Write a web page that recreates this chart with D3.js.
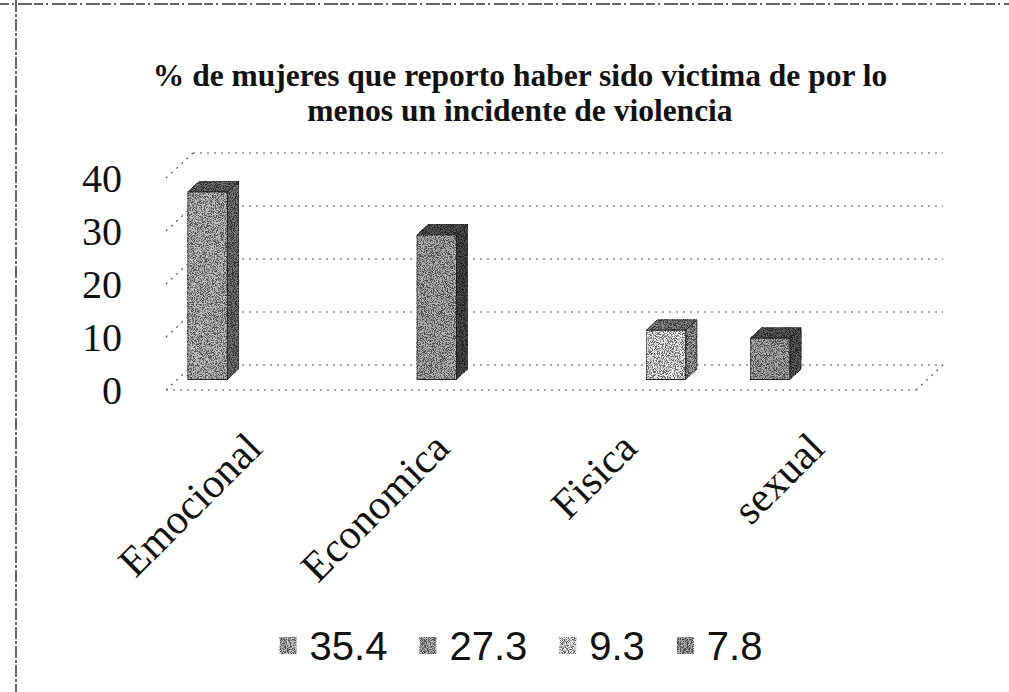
<!DOCTYPE html>
<html>
<head>
<meta charset="utf-8">
<script src="https://cdn.jsdelivr.net/npm/d3@7"></script>
<style>
  body { margin: 0; background: #fff; }
  svg { display: block; }
  .tick-label, .cat-label { font-family: 'Liberation Serif', 'Times New Roman', serif; fill: #111; }
  .title { font-family: 'Liberation Serif', serif; font-weight: bold; fill: #111; }
  .legend-label { font-family: 'Liberation Sans', Arial, sans-serif; fill: #111; }
  .grid { stroke: #555; stroke-width: 1.2; stroke-dasharray: 2 5; fill: none; }
</style>
</head>
<body>
<div id="chart"></div>
<script>
//Data
const categories = ['Emocional', 'Economica', 'Fisica', 'sexual'];
const values = [35.4, 27.3, 9.3, 7.8];
const seriesNames = ['35.4', '27.3', '9.3', '7.8'];
const barSlot = [0, 1, 2, 0];        // column of the cluster each value sits in
const yTicks = [0, 10, 20, 30, 40];
const titleLines = ['% de mujeres que reporto haber sido victima de por lo',
                    'menos un incidente de violencia'];

//Face shades per series: front, side, top (darkened further by the grain)
const shades = [
  {front: '#c4c4c4', side: '#7a7a7a', top: '#707070'},
  {front: '#b8b8b8', side: '#505050', top: '#5a5a5a'},
  {front: '#f4f4f4', side: '#a8a8a8', top: '#8a8a8a'},
  {front: '#b0b0b0', side: '#606060', top: '#606060'}
];

const width = 1009, height = 692;
let plot = {left: 166, right: 916};
let depth = {dx: 27, dy: -25};      // back wall offset from the front edge
let barZ = 0.42, barD = 0.42;       // where bars stand in depth, and how deep they are

let svg = d3.select('#chart').append('svg')
    .attr('width', width)
    .attr('height', height);

svg.append('rect').attr('width', width).attr('height', height).attr('fill', '#fff');

//grain so the bars look like the photocopy
let defs = svg.append('defs');
let f = defs.append('filter').attr('id', 'grain')
    .attr('x', 0).attr('y', 0).attr('width', 1).attr('height', 1);
f.append('feTurbulence').attr('type', 'fractalNoise').attr('baseFrequency', 1.1)
    .attr('numOctaves', 2).attr('seed', 7).attr('result', 'n');
f.append('feColorMatrix').attr('in', 'n').attr('type', 'saturate').attr('values', 0).attr('result', 'g');
let ct = f.append('feComponentTransfer').attr('in', 'g').attr('result', 'c');
['feFuncR', 'feFuncG', 'feFuncB'].forEach(function(k){
    ct.append(k).attr('type', 'linear').attr('slope', 7).attr('intercept', -3);
});
ct.append('feFuncA').attr('type', 'linear').attr('slope', 0).attr('intercept', 1);
f.append('feBlend').attr('in', 'SourceGraphic').attr('in2', 'c').attr('mode', 'multiply').attr('result', 'm');
f.append('feComposite').attr('in', 'SourceGraphic').attr('in2', 'm').attr('operator', 'arithmetic')
    .attr('k1', 0).attr('k2', 0.15).attr('k3', 0.85).attr('k4', 0).attr('result', 'mix');
f.append('feComposite').attr('in', 'mix').attr('in2', 'SourceAlpha').attr('operator', 'in');

//scanned page frame
svg.append('line').attr('x1', 0).attr('x2', width).attr('y1', 4).attr('y2', 4)
    .attr('stroke', '#333').attr('stroke-width', 1.5).attr('stroke-dasharray', '9 3 2 4 14 2');
svg.append('line').attr('x1', 16).attr('x2', 16).attr('y1', 0).attr('y2', height)
    .attr('stroke', '#333').attr('stroke-width', 1.5).attr('stroke-dasharray', '12 2 3 2');

//Scales
let xScale = d3.scaleBand()
    .domain(categories)
    .range([plot.left, plot.right]);

let slotScale = d3.scaleBand()
    .domain(d3.range(seriesNames.length))
    .range([0, xScale.bandwidth()])
    .paddingOuter(0.25);

let yScale = d3.scaleLinear()
    .domain([0, 40])
    .range([390, 178]);

//Title
svg.append('text')
    .attr('class', 'title')
    .attr('x', 520)
    .attr('y', 86)
    .attr('text-anchor', 'middle')
    .style('font-size', '31.5px')
    .selectAll('tspan')
    .data(titleLines)
    .enter().append('tspan')
    .attr('x', 520)
    .attr('dy', function(d, i){ return i === 0 ? 0 : 35; })
    .text(function(d){ return d; });

//walls: back gridlines, left side, floor
let grid = svg.append('g');
grid.selectAll('.back')
    .data(yTicks)
    .enter().append('line')
    .attr('class', 'grid')
    .attr('x1', plot.left + depth.dx)
    .attr('x2', plot.right + depth.dx)
    .attr('y1', function(d){ return yScale(d) + depth.dy; })
    .attr('y2', function(d){ return yScale(d) + depth.dy; });

grid.selectAll('.side')
    .data(yTicks)
    .enter().append('line')
    .attr('class', 'grid')
    .attr('x1', plot.left)
    .attr('x2', plot.left + depth.dx)
    .attr('y1', function(d){ return yScale(d); })
    .attr('y2', function(d){ return yScale(d) + depth.dy; });

grid.append('line').attr('class', 'grid')
    .attr('x1', plot.left).attr('x2', plot.right)
    .attr('y1', yScale(0)).attr('y2', yScale(0));
grid.append('line').attr('class', 'grid')
    .attr('x1', plot.right).attr('x2', plot.right + depth.dx)
    .attr('y1', yScale(0)).attr('y2', yScale(0) + depth.dy);

//y tick labels
svg.selectAll('.tick-label')
    .data(yTicks)
    .enter().append('text')
    .attr('class', 'tick-label')
    .attr('x', 122)
    .attr('y', function(d){ return yScale(d); })
    .attr('dy', '0.35em')
    .attr('text-anchor', 'end')
    .style('font-size', '40px')
    .text(function(d){ return d; });

//3D bars
let bars = categories.map(function(c, i){
    let w = slotScale.bandwidth() * 0.95;
    let x0 = xScale(c) + slotScale(barSlot[i]) + barZ * depth.dx;
    let yb = yScale(0) + barZ * depth.dy;
    let yt = yScale(values[i]) + barZ * depth.dy;
    return {i: i, x0: x0, w: w, yb: yb, yt: yt, ddx: barD * depth.dx, ddy: barD * depth.dy};
});

let barG = svg.selectAll('.bar')
    .data(bars)
    .enter().append('g')
    .attr('class', 'bar')
    .attr('filter', 'url(#grain)');

barG.append('path')
    .attr('d', function(d){
        return 'M' + (d.x0 + d.w) + ',' + d.yt + 'L' + (d.x0 + d.w + d.ddx) + ',' + (d.yt + d.ddy) +
            'L' + (d.x0 + d.w + d.ddx) + ',' + (d.yb + d.ddy) + 'L' + (d.x0 + d.w) + ',' + d.yb + 'Z';
    })
    .attr('fill', function(d){ return shades[d.i].side; })
    .attr('stroke', '#222');

barG.append('path')
    .attr('d', function(d){
        return 'M' + d.x0 + ',' + d.yt + 'L' + (d.x0 + d.ddx) + ',' + (d.yt + d.ddy) +
            'L' + (d.x0 + d.w + d.ddx) + ',' + (d.yt + d.ddy) + 'L' + (d.x0 + d.w) + ',' + d.yt + 'Z';
    })
    .attr('fill', function(d){ return shades[d.i].top; })
    .attr('stroke', '#222');

barG.append('rect')
    .attr('x', function(d){ return d.x0; })
    .attr('y', function(d){ return d.yt; })
    .attr('width', function(d){ return d.w; })
    .attr('height', function(d){ return d.yb - d.yt; })
    .attr('fill', function(d){ return shades[d.i].front; })
    .attr('stroke', '#333');

//category labels
svg.selectAll('.cat-label')
    .data(categories)
    .enter().append('text')
    .attr('class', 'cat-label')
    .attr('text-anchor', 'end')
    .attr('dy', '0.35em')
    .style('font-size', '42px')
    .attr('transform', function(d){
        return 'translate(' + (xScale(d) + xScale.bandwidth() / 2 - 6) + ',440) rotate(-45)';
    })
    .text(function(d){ return d; });

//legend
let legend = svg.append('g');
let cursor = 0;
seriesNames.forEach(function(s, i){
    let item = legend.append('g').attr('transform', 'translate(' + cursor + ',0)');
    item.append('rect')
        .attr('x', 0).attr('y', -9)
        .attr('width', 17).attr('height', 17)
        .attr('fill', shades[i].front)
        .attr('filter', 'url(#grain)');
    let t = item.append('text')
        .attr('class', 'legend-label')
        .attr('x', 30)
        .attr('dy', '0.35em')
        .style('font-size', '40px')
        .text(s);
    cursor += 30 + t.node().getComputedTextLength() + 32;
});
cursor -= 32;
legend.attr('transform', 'translate(' + (521 - cursor / 2) + ',646)');
</script>
</body>
</html>
